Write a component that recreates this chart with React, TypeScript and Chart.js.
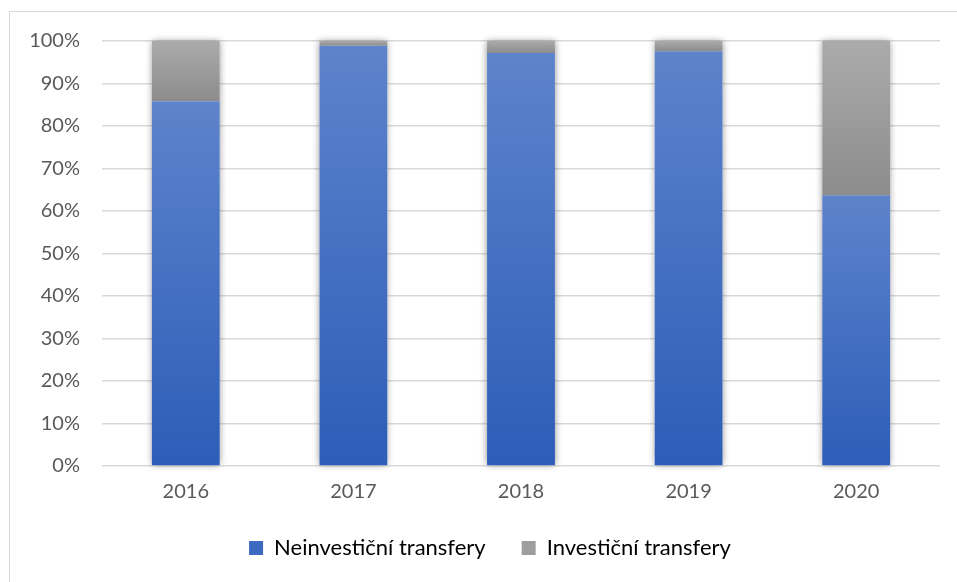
import React, { useEffect, useRef } from "react";
import { Chart, registerables } from "chart.js";

Chart.register(...registerables);

const years = ["2016", "2017", "2018", "2019", "2020"];
const neinvesticni = [85.8, 98.9, 97.2, 97.6, 63.7];
const investicni = [14.2, 1.1, 2.8, 2.4, 36.3];
const seriesNames = ["Neinvestiční transfery", "Investiční transfery"];
const yTicks = [0, 10, 20, 30, 40, 50, 60, 70, 80, 90, 100];

const FONT = "Lato, 'Open Sans', sans-serif";
const TEXT = "#595959";

function segGradient(ctx: any, top: number, bottom: number, c1: string, c2: string) {
  const g = ctx.createLinearGradient(0, top, 0, bottom);
  g.addColorStop(0, c1);
  g.addColorStop(1, c2);
  return g;
}

const shadowPlugin = {
  id: "barShadow",
  afterLayout(chart: any) {
    if (chart.legend) {
      chart.legend.left += 20;
      chart.legend.right += 20;
    }
  },
  beforeDatasetsDraw(chart: any) {
    const ctx = chart.ctx;
    const m0 = chart.getDatasetMeta(0);
    const m1 = chart.getDatasetMeta(1);
    ctx.save();
    ctx.shadowColor = "rgba(0,0,0,0.45)";
    ctx.shadowBlur = 7;
    ctx.fillStyle = "#ffffff";
    m0.data.forEach((bar: any, i: number) => {
      const top = m1.data[i].y;
      const bottom = bar.base;
      const w = bar.width;
      ctx.fillRect(bar.x - w / 2, top, w, bottom - top);
    });
    ctx.restore();
  },
};

export default function App() {
  const ref = useRef<HTMLCanvasElement>(null);
  useEffect(() => {
    const canvas = ref.current!;
    const chart = new Chart(canvas, {
      type: "bar",
      data: {
        labels: years,
        datasets: [
          {
            label: seriesNames[0],
            data: neinvesticni,
            backgroundColor: (c: any) => {
              const ch = c.chart;
              const y = ch.scales.y;
              if (!y || !ch.chartArea || c.dataIndex === undefined) return "#3D6AC1";
              return segGradient(ch.ctx, y.getPixelForValue(neinvesticni[c.dataIndex]), y.getPixelForValue(0), "#5D83CB", "#2D5DB8");
            },
            borderWidth: 0,
            barPercentage: 0.81,
            categoryPercentage: 0.5,
          },
          {
            label: seriesNames[1],
            data: investicni,
            backgroundColor: (c: any) => {
              const ch = c.chart;
              const y = ch.scales.y;
              if (!y || !ch.chartArea || c.dataIndex === undefined) return "#9E9E9E";
              return segGradient(ch.ctx, y.getPixelForValue(100), y.getPixelForValue(neinvesticni[c.dataIndex]), "#ABABAB", "#8C8C8C");
            },
            borderWidth: 0,
            barPercentage: 0.81,
            categoryPercentage: 0.5,
          },
        ],
      },
      options: {
        animation: false,
        responsive: false,
        maintainAspectRatio: false,
        layout: { padding: { left: 0, right: 17, top: 41, bottom: 13 } },
        plugins: {
          tooltip: { enabled: false },
          legend: {
            position: "bottom",
            labels: {
              font: { family: FONT, size: 22 },
              color: TEXT,
              boxWidth: 14,
              boxHeight: 14,
              padding: 36,
              generateLabels: () => [
                { text: seriesNames[0], fillStyle: "#3D6AC1", strokeStyle: "#3D6AC1", lineWidth: 0, datasetIndex: 0 },
                { text: seriesNames[1], fillStyle: "#9E9E9E", strokeStyle: "#9E9E9E", lineWidth: 0, datasetIndex: 1 },
              ] as any,
            },
          },
        },
        scales: {
          x: {
            stacked: true,
            grid: { display: false, drawTicks: false },
            border: { display: false },
            ticks: { font: { family: FONT, size: 20 }, color: TEXT, padding: 14 },
            afterFit: (s: any) => { s.height = 35; },
          },
          y: {
            stacked: true,
            min: 0,
            max: 100,
            afterBuildTicks: (s: any) => { s.ticks = yTicks.map((v) => ({ value: v })); },
            grid: { color: "#D9D9D9", lineWidth: 1.5, drawTicks: false },
            border: { display: false },
            ticks: {
              font: { family: FONT, size: 20 },
              color: TEXT,
              padding: 22,
              callback: (v: any) => v + "%",
            },
            afterFit: (s: any) => { s.width = 102; },
          },
        },
      },
      plugins: [shadowPlugin],
    });
    return () => chart.destroy();
  }, []);

  return (
    <div style={{ position: "fixed", left: 0, top: 0, width: 957, height: 582, overflow: "hidden", background: "#fff" }}>
      <div style={{ position: "absolute", left: 9, top: 11, width: 1000, height: 700, border: "1.5px solid #D9D9D9", boxSizing: "border-box" }} />
      <canvas ref={ref} width={957} height={582} style={{ position: "absolute", left: 0, top: 0, width: 957, height: 582 }} />
    </div>
  );
}
